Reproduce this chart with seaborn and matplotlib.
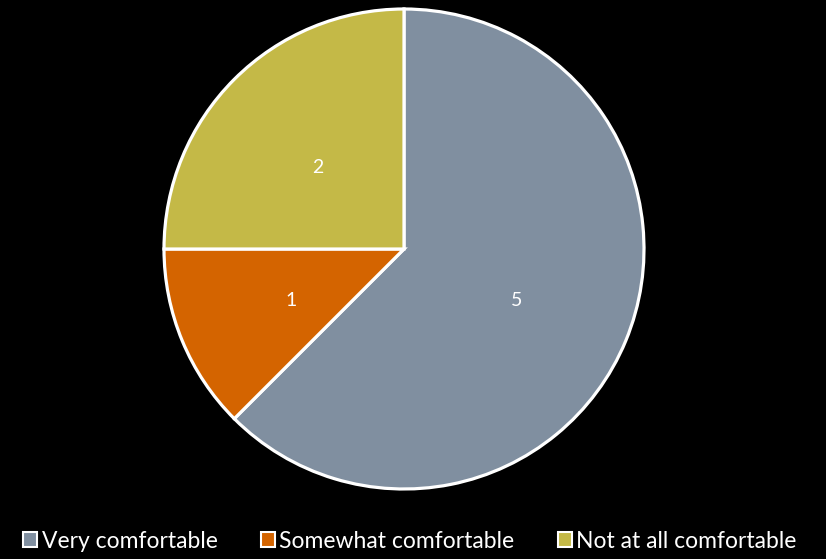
import matplotlib
matplotlib.use("Agg")
import matplotlib.pyplot as plt
import seaborn as sns
from matplotlib.patches import Patch

categories = ["Very comfortable", "Somewhat comfortable", "Not at all comfortable"]
counts = [5, 1, 2]
colors = ["#808FA0", "#D46400", "#C4B947"]

sns.set_theme(style="white")
plt.rcParams["font.family"] = ["Lato", "DejaVu Sans"]

fig = plt.figure(figsize=(8.26, 5.59), dpi=100, facecolor="black")
ax = fig.add_axes([164 / 826, 70 / 559, 480 / 826, 480 / 559])
ax.set_facecolor("black")

palette = sns.color_palette(colors)
wedges, texts = ax.pie(
    counts,
    colors=palette,
    startangle=90,
    counterclock=False,
    labels=[str(c) for c in counts],
    labeldistance=0.51,
    wedgeprops=dict(edgecolor="white", linewidth=2.3),
    textprops=dict(color="white", fontsize=14, ha="center", va="center"),
)
# nudge the value labels slightly downward
for t in texts:
    x, y = t.get_position()
    t.set_position((x, y - 0.02))

ax.set_aspect("equal")
ax.set_xlim(-1.0, 1.0)
ax.set_ylim(-1.0, 1.0)
ax.axis("off")

handles = [Patch(facecolor=c, edgecolor="white", linewidth=1.5) for c in palette]
leg = fig.legend(
    handles, categories,
    loc="center", bbox_to_anchor=(410 / 826, 1 - 541 / 559),
    ncol=3, frameon=False, fontsize=16.5,
    handlelength=0.6, handleheight=0.6, handletextpad=0.2,
    columnspacing=1.9,
)
for t in leg.get_texts():
    t.set_color("white")

fig.savefig("out.png", dpi=100, facecolor="black")
